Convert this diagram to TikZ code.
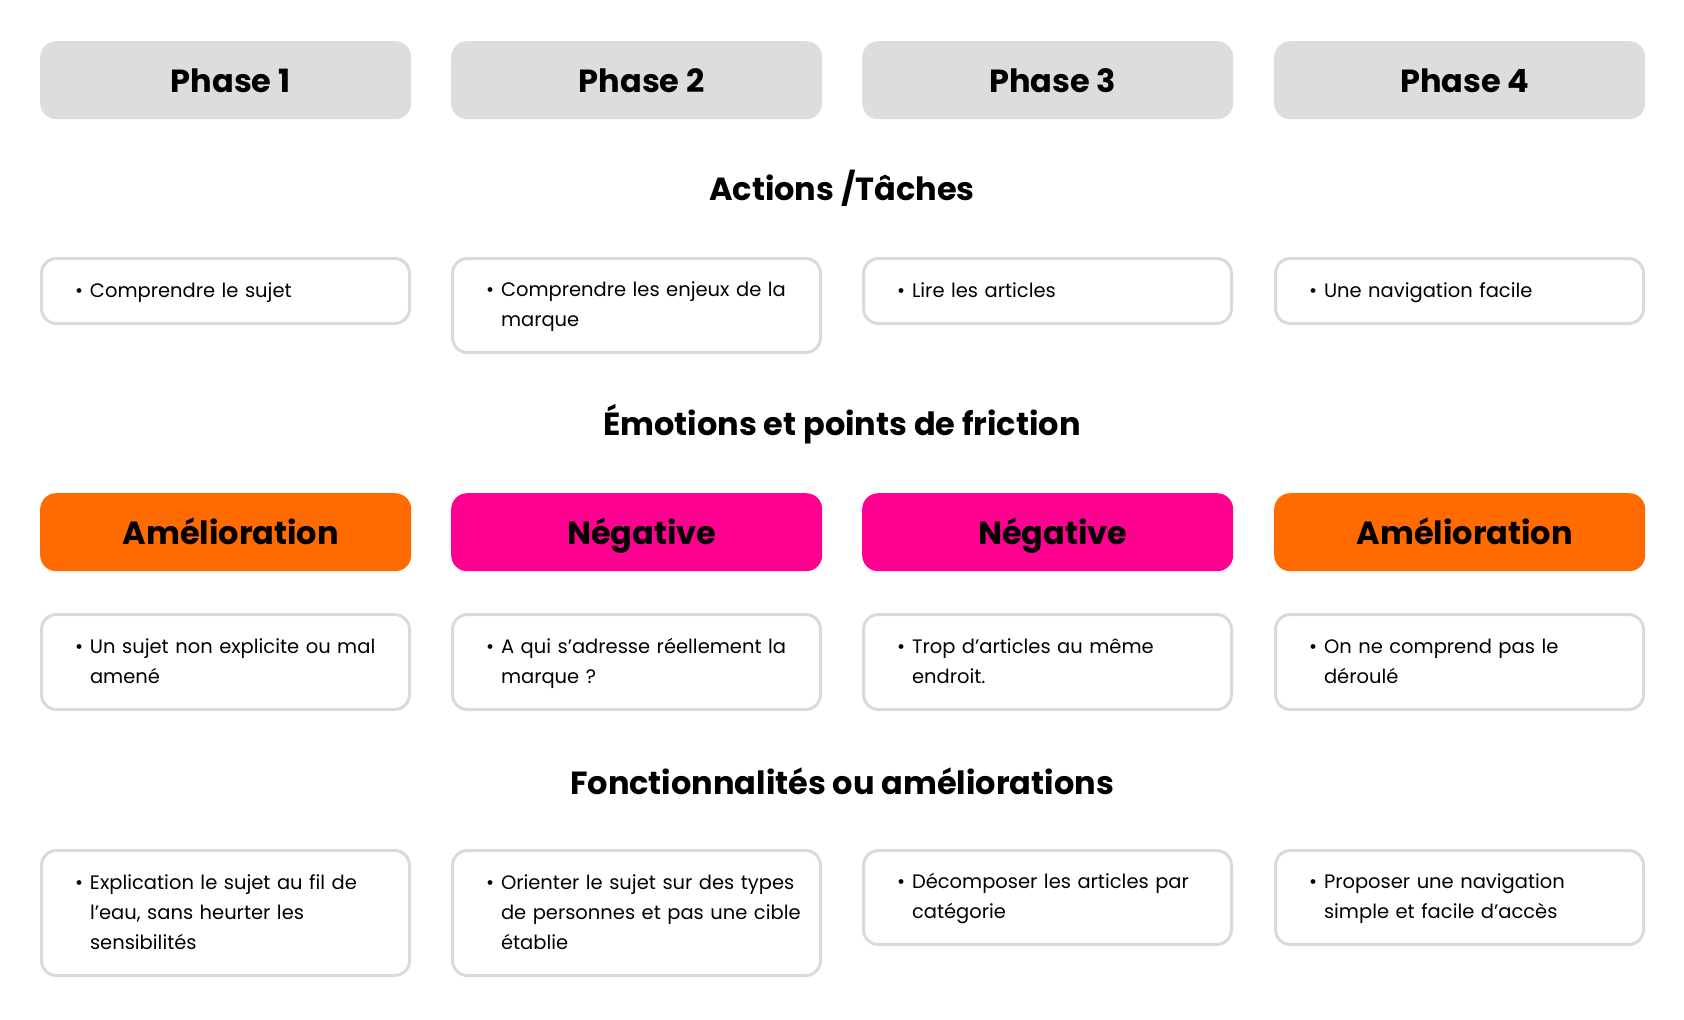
\documentclass[tikz,border=0pt]{standalone}
\usepackage{fontspec}
\setmainfont{Poppins}
\usetikzlibrary{positioning}

\definecolor{phasegray}{HTML}{DDDDDD}
\definecolor{cardgray}{HTML}{DADADA}
\definecolor{amelio}{HTML}{FF6B00}
\definecolor{negatif}{HTML}{FF0090}

% one bullet point, lines broken by hand
\newcommand{\puce}[1]{\makebox[15pt][l]{\textbullet}\begin{tabular}[t]{@{}l@{}}#1\end{tabular}}

\begin{document}
\begin{tikzpicture}[x=1pt, y=-1pt,
  phase/.style={fill=phasegray, rounded corners=16pt, minimum width=371pt,
    minimum height=78pt, anchor=north west, text height=24pt, text depth=0pt,
    execute at begin node={\hspace*{10pt}}, font=\fontsize{32}{36}\selectfont\bfseries},
  mood/.style={phase, fill=#1},
  section/.style={font=\fontsize{32}{36}\selectfont\bfseries},
  card/.style={draw=cardgray, line width=3pt, rounded corners=15pt, anchor=north west,
    text width=301pt, inner xsep=33.5pt, inner ysep=0pt, align=left,
    minimum height=#1, font=\fontsize{19.5}{30}\selectfont}
]
\useasboundingbox (0,0) rectangle (1684,1020);

\foreach \i/\x in {1/40,2/451,3/862,4/1274}
  \node[phase] (phase\i) at (\x,41) {Phase \i};

\node[section] (actions) at (842,188) {Actions /Tâches};
\node[card=65pt] (act1) at (40,257) {\puce{Comprendre le sujet}};
\node[card=94pt] (act2) at (451,257) {\puce{Comprendre les enjeux de la\\marque}};
\node[card=65pt] (act3) at (862,257) {\puce{Lire les articles}};
\node[card=65pt] (act4) at (1274,257) {\puce{Une navigation facile}};

\node[section] (emotions) at (842,424) {Émotions et points de friction};
\node[mood=amelio] (mood1) at (40,493) {Amélioration};
\node[mood=negatif] (mood2) at (451,493) {Négative};
\node[mood=negatif] (mood3) at (862,493) {Négative};
\node[mood=amelio] (mood4) at (1274,493) {Amélioration};

\node[card=95pt] (fric1) at (40,613) {\puce{Un sujet non explicite ou mal\\amené}};
\node[card=95pt] (fric2) at (451,613) {\puce{A qui s’adresse réellement la\\marque ?}};
\node[card=95pt] (fric3) at (862,613) {\puce{Trop d’articles au même\\endroit.}};
\node[card=95pt] (fric4) at (1274,613) {\puce{On ne comprend pas le\\déroulé}};

\node[section] (fonctions) at (842,781) {Fonctionnalités ou améliorations};
\node[card=125pt] (fonc1) at (40,849) {\puce{Explication le sujet au fil de\\l’eau, sans heurter les\\sensibilités}};
\node[card=125pt] (fonc2) at (451,849) {\puce{Orienter le sujet sur des types\\de personnes et pas une cible\\établie}};
\node[card=94pt] (fonc3) at (862,849) {\puce{Décomposer les articles par\\catégorie}};
\node[card=94pt] (fonc4) at (1274,849) {\puce{Proposer une navigation\\simple et facile d’accès}};
\end{tikzpicture}
\end{document}
